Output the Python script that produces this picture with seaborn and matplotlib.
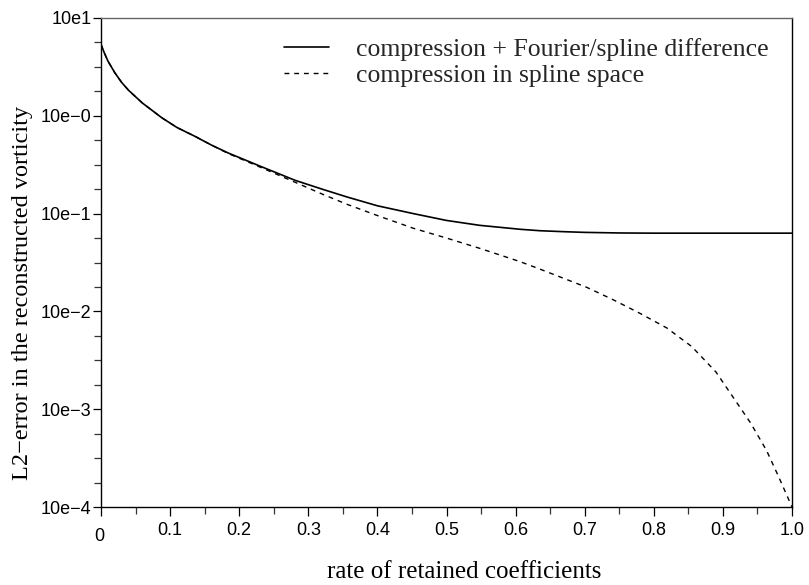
import numpy as np
import pandas as pd
import matplotlib
matplotlib.use("Agg")
import matplotlib.pyplot as plt
from matplotlib.ticker import FixedLocator, NullFormatter
from matplotlib.transforms import ScaledTranslation
import seaborn as sns

# ---- data (y given as log10 of the error) ----
rate_solid = [0.0, 0.005, 0.01, 0.02, 0.03, 0.04, 0.06, 0.088, 0.11, 0.136, 0.16, 0.184,
              0.232, 0.281, 0.32, 0.356, 0.40, 0.452, 0.50, 0.548, 0.606, 0.635,
              0.67, 0.70, 0.75, 0.80, 0.90, 1.0]
log_solid = [0.73, 0.64, 0.56, 0.44, 0.34, 0.26, 0.13, -0.02, -0.12, -0.21, -0.30, -0.38,
             -0.52, -0.66, -0.75, -0.83, -0.92, -1.00, -1.07, -1.12, -1.16, -1.175,
             -1.185, -1.192, -1.198, -1.20, -1.20, -1.20]

rate_dashed = [0.0, 0.005, 0.01, 0.02, 0.03, 0.04, 0.06, 0.088, 0.11, 0.136, 0.16, 0.184,
               0.232, 0.281, 0.32, 0.356, 0.40, 0.452, 0.50, 0.548, 0.606, 0.635,
               0.703, 0.741, 0.78, 0.819, 0.855, 0.89, 0.915, 0.94, 0.963, 0.98, 1.0]
log_dashed = [0.73, 0.64, 0.56, 0.44, 0.34, 0.26, 0.13, -0.02, -0.12, -0.21, -0.30, -0.385,
              -0.53, -0.68, -0.80, -0.905, -1.02, -1.15, -1.25, -1.355, -1.49, -1.567,
              -1.754, -1.88, -2.02, -2.17, -2.36, -2.62, -2.88, -3.14, -3.42, -3.68, -4.0]

labels = ["compression + Fourier/spline difference", "compression in spline space"]
ytick_vals = [1e-4, 1e-3, 1e-2, 1e-1, 1e0, 1e1]
ytick_labels = ["10e\u22124", "10e\u22123", "10e\u22122", "10e\u22121", "10e\u22120", "10e1"]
xtick_vals = [0.0, 0.1, 0.2, 0.3, 0.4, 0.5, 0.6, 0.7, 0.8, 0.9, 1.0]
xtick_labels = ["0", "0.1", "0.2", "0.3", "0.4", "0.5", "0.6", "0.7", "0.8", "0.9", "1.0"]

df_solid = pd.DataFrame({"rate": rate_solid, "err": 10.0 ** np.array(log_solid)})
df_dashed = pd.DataFrame({"rate": rate_dashed, "err": 10.0 ** np.array(log_dashed)})

sns.set_theme(style="white")
plt.rcParams["font.family"] = ["Liberation Sans", "DejaVu Sans"]

fig = plt.figure(figsize=(8.09, 5.85), dpi=100)
ax = fig.add_axes([101 / 809, 1 - 507 / 585, (792 - 101) / 809, (507 - 18) / 585])

sns.lineplot(data=df_solid, x="rate", y="err", ax=ax, color="black", lw=1.2,
             label=labels[0], estimator=None, sort=False)
sns.lineplot(data=df_dashed, x="rate", y="err", ax=ax, color="black", lw=1.0,
             label=labels[1], estimator=None, sort=False, linestyle=(0, (3.5, 3.5)))

ax.set_yscale("log")
ax.set_xlim(0, 1.0)
ax.set_ylim(1e-4, 10)

# ticks
ax.yaxis.set_major_locator(FixedLocator(ytick_vals))
ax.set_yticklabels(ytick_labels)
minor_y = [10.0 ** (k + f) for k in range(-4, 1) for f in (0.25, 0.5, 0.75)]
ax.yaxis.set_minor_locator(FixedLocator(minor_y))
ax.yaxis.set_minor_formatter(NullFormatter())

ax.xaxis.set_major_locator(FixedLocator(xtick_vals))
ax.set_xticklabels(xtick_labels)
ax.xaxis.set_minor_locator(FixedLocator([0.05 + 0.1 * i for i in range(10)]))

ax.tick_params(axis="both", which="major", direction="out", width=0.9,
               color="black", labelsize=13, labelcolor="black", left=True, bottom=True)
ax.tick_params(axis="both", which="minor", direction="out", length=5, width=0.9,
               color="#333333", left=True, bottom=True)
ax.tick_params(axis="y", which="major", length=6, pad=1)
ax.tick_params(axis="x", which="major", length=6.5, pad=4.5)

# shift "0" label down like the reference
lbl0 = ax.get_xticklabels()[0]
lbl0.set_transform(lbl0.get_transform() + ScaledTranslation(-2 / 100, -6 / 100, fig.dpi_scale_trans))

for side in ["left", "bottom", "right"]:
    ax.spines[side].set_color("black")
    ax.spines[side].set_linewidth(1.0)
ax.spines["top"].set_color("#666666")
ax.spines["top"].set_linewidth(1.0)

serif = ["Liberation Serif", "DejaVu Serif"]
ax.set_xlabel("rate of retained coefficients", family=serif, fontsize=18,
              color="black", va="baseline")
ax.xaxis.set_label_coords((464.5 - 101) / 691, (507 - 578) / 489)
ax.set_ylabel("L2\u2212error in the reconstructed vorticity", family=serif, fontsize=17.5,
              color="black")
ax.yaxis.set_label_coords((33 - 101) / 691, (507 - 293) / 489)

leg = ax.legend(loc="upper left", bbox_to_anchor=(284 / 809, 1 - 38 / 585),
                bbox_transform=fig.transFigure, frameon=False, handlelength=1.75,
                handletextpad=1.05, borderpad=0, borderaxespad=0, labelspacing=0.12,
                prop={"family": serif, "size": 18.5})

fig.savefig("out.png", dpi=100)
